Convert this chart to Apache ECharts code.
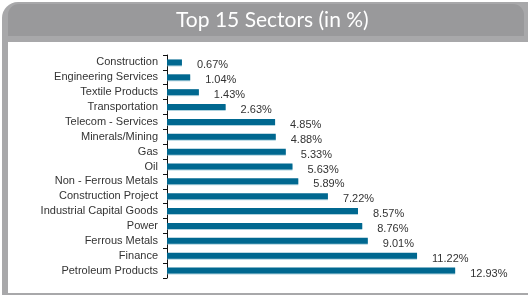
<!DOCTYPE html>
<html>
<head>
<meta charset="utf-8">
<script src="https://cdn.jsdelivr.net/npm/echarts@6/dist/echarts.min.js"></script>
<style>
  html, body { margin: 0; padding: 0; background: #fff; }
  #main { width: 528px; height: 295px; }
</style>
</head>
<body>
<div id="main"></div>
<script>
// sectors, top to bottom
var sectors = ['Construction', 'Engineering Services', 'Textile Products', 'Transportation',
  'Telecom - Services', 'Minerals/Mining', 'Gas', 'Oil', 'Non - Ferrous Metals',
  'Construction Project', 'Industrial Capital Goods', 'Power', 'Ferrous Metals',
  'Finance', 'Petroleum Products']
var weights = [0.67, 1.04, 1.43, 2.63, 4.85, 4.88, 5.33, 5.63, 5.89, 7.22, 8.57, 8.76, 9.01, 11.22, 12.93]
var titleText = 'Top 15 Sectors (in %)'

var chart = echarts.init(document.getElementById('main'))
var option = {
  animation: false,
  graphic: [
    // panel frame
    { type: 'rect', shape: { x: 2, y: 2, width: 600, height: 300, r: [16, 16, 0, 0] },
      style: { fill: '#a8a8aa' }, z: -10 },
    // title band
    { type: 'rect', shape: { x: 8, y: 4, width: 516, height: 32, r: [11, 11, 0, 0] },
      style: { fill: '#99999b' }, z: -9 },
    // white body
    { type: 'rect', shape: { x: 8, y: 42, width: 600, height: 251 },
      style: { fill: '#ffffff' }, z: -8 },
    { type: 'text', left: 176, top: 10,
      style: { text: titleText, fill: '#ffffff', font: '21px Lato, "Noto Sans", sans-serif' }, z: 5 }
  ],
  grid: { left: 167, top: 55, width: 312, height: 223 },
  xAxis: { type: 'value', min: 0, max: 14, show: false },
  yAxis: {
    type: 'category',
    data: sectors,
    inverse: true,
    axisLine: { lineStyle: { color: '#111', width: 1 } },
    axisTick: { show: true, length: 4, lineStyle: { color: '#111' } },
    axisLabel: { color: '#333', fontSize: 11, fontFamily: '"Liberation Sans", Arial, sans-serif', margin: 9 }
  },
  series: [{
    type: 'bar',
    data: weights,
    barWidth: 6,
    itemStyle: { color: '#006890', shadowColor: 'rgba(120,180,200,0.6)', shadowOffsetY: 1 },
    label: {
      show: true,
      position: 'right',
      distance: 15,
      offset: [0, 3],
      color: '#333',
      fontSize: 11,
      fontFamily: '"Liberation Sans", Arial, sans-serif',
      formatter: function (p) { return p.value.toFixed(2) + '%' }
    }
  }]
}
chart.setOption(option)
</script>
</body>
</html>
